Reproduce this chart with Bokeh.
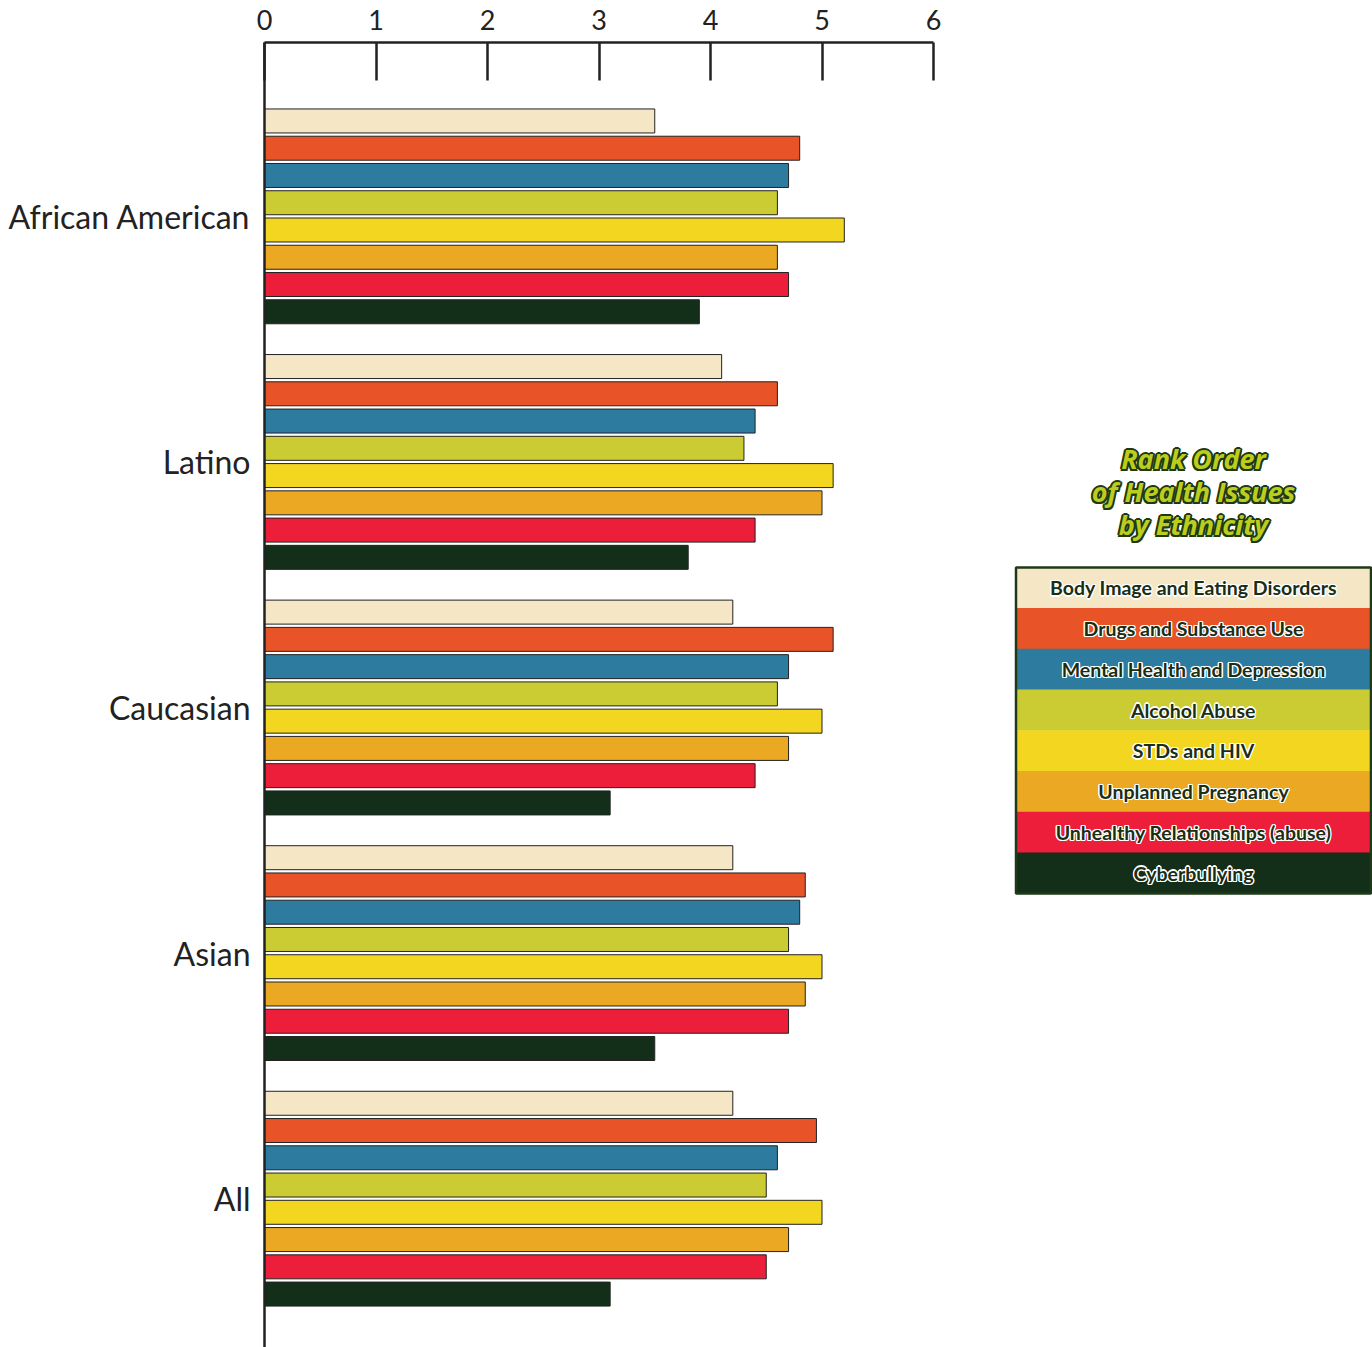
from bokeh.plotting import figure
from bokeh.models import ColumnDataSource, Range1d, FixedTicker, LinearAxis
from bokeh.layouts import row
from bokeh.embed import file_html
from bokeh.resources import INLINE
from bokeh.core.properties import value

groups = ["African American", "Latino", "Caucasian", "Asian", "All"]
issues = ["Body Image and Eating Disorders", "Drugs and Substance Use",
          "Mental Health and Depression", "Alcohol Abuse", "STDs and HIV",
          "Unplanned Pregnancy", "Unhealthy Relationships (abuse)", "Cyberbullying"]
colors = ["#F5E6C6", "#E85427", "#2E7BA0", "#CBCC33", "#F2D620",
          "#EBA823", "#EC1E3A", "#132F19"]

body_image = [3.5, 4.1, 4.2, 4.2, 4.2]
drugs = [4.8, 4.6, 5.1, 4.85, 4.95]
mental = [4.7, 4.4, 4.7, 4.8, 4.6]
alcohol = [4.6, 4.3, 4.6, 4.7, 4.5]
stds = [5.2, 5.1, 5.0, 5.0, 5.0]
unplanned = [4.6, 5.0, 4.7, 4.85, 4.7]
unhealthy = [4.7, 4.4, 4.4, 4.7, 4.5]
cyber = [3.9, 3.8, 3.1, 3.5, 3.1]
series = [body_image, drugs, mental, alcohol, stds, unplanned, unhealthy, cyber]
x_ticks = [0, 1, 2, 3, 4, 5, 6]
title_lines = ["Rank Order", "of Health Issues", "by Ethnicity"]

n = len(groups)
pitch = 0.111
ys, vals, cols = [], [], []
for j, s in enumerate(series):
    for gi, v in enumerate(s):
        ys.append((n - 1 - gi) + 0.5 + (3.5 - j) * pitch)
        vals.append(v)
        cols.append(colors[j])
src = ColumnDataSource(dict(y=ys, v=vals, c=cols))

p = figure(width=943, height=1347, output_backend="svg", toolbar_location=None,
           x_range=Range1d(0, 6), y_range=Range1d(-0.106, 5.208),
           x_axis_location=None, y_axis_location=None,
           min_border_left=264, min_border_right=10, min_border_top=42,
           min_border_bottom=0)
p.outline_line_color = None
p.xgrid.visible = False
p.ygrid.visible = False
p.background_fill_color = "white"
p.border_fill_color = "white"

p.hbar(y="y", left=0, right="v", height=0.0977, fill_color="c",
       line_color="#222222", line_width=1, source=src)

xa = LinearAxis(ticker=FixedTicker(ticks=x_ticks))
xa.major_tick_in = 38
xa.major_tick_out = 0
xa.minor_tick_line_color = None
xa.axis_line_width = 2.5
xa.axis_line_color = "#222222"
xa.major_tick_line_width = 2.5
xa.major_tick_line_color = "#222222"
xa.major_label_text_font = "Lato"
xa.major_label_text_font_size = "27px"
xa.major_label_text_color = "#222222"
xa.major_label_standoff = 13
p.add_layout(xa, "above")

ya = LinearAxis(ticker=FixedTicker(ticks=[n - 1 - gi + 0.5 for gi in range(n)]))
ya.major_label_overrides = {n - 1 - gi + 0.5: g for gi, g in enumerate(groups)}
ya.major_tick_line_color = None
ya.minor_tick_line_color = None
ya.axis_line_width = 2.5
ya.axis_line_color = "#222222"
ya.major_label_text_font = "Lato"
ya.major_label_text_font_size = "32px"
ya.major_label_text_color = "#222222"
ya.major_label_standoff = 8
p.add_layout(ya, "left")

# Legend panel (frame aligned with main frame: pixel 42 .. 1347)
lg = figure(width=429, height=1347, output_backend="svg", toolbar_location=None,
            x_range=Range1d(0, 429), y_range=Range1d(1347, 42),
            x_axis_location=None, y_axis_location=None,
            min_border=0, min_border_top=42)
lg.outline_line_color = None
lg.xgrid.visible = False
lg.ygrid.visible = False

row_h = 40.75
top = 567
lsrc = ColumnDataSource(dict(
    x=[250] * len(issues),
    y=[top + row_h * (k + 0.5) for k in range(len(issues))],
    c=colors, t=issues))
lg.rect(x="x", y="y", width=355, height=row_h + 0.5, fill_color="c",
        line_color=None, source=lsrc)
lg.rect(x=[250], y=[top + row_h * len(issues) / 2], width=355,
        height=row_h * len(issues), fill_color=None, line_color="#1F3A18",
        line_width=2.5)

halo = [(-1, -1), (1, -1), (-1, 1), (1, 1), (0, -1.3), (0, 1.3), (-1.3, 0), (1.3, 0)]
for dx, dy in halo:
    lg.text(x="x", y="y", text="t", source=lsrc, text_align="center",
            text_baseline="middle", text_font=value("Lato"),
            text_font_style="bold", text_font_size="19.5px", text_color="white",
            x_offset=dx, y_offset=dy)
lg.text(x="x", y="y", text="t", source=lsrc, text_align="center",
        text_baseline="middle", text_font=value("Lato"),
        text_font_style="bold", text_font_size="19.5px", text_color="#1A2E14")

tsrc = ColumnDataSource(dict(x=[250] * 3, y=[458, 491, 524], t=title_lines))
halo2 = [(-1.5, -1.5), (1.5, -1.5), (-1.5, 1.5), (1.5, 1.5),
         (0, -2), (0, 2), (-2, 0), (2, 0)]
for dx, dy in halo2:
    lg.text(x="x", y="y", text="t", source=tsrc, text_align="center",
            text_baseline="middle", text_font=value("Open Sans"),
            text_font_style="bold italic", text_font_size="27px",
            text_color="#1F3A12", x_offset=dx, y_offset=dy)
lg.text(x="x", y="y", text="t", source=tsrc, text_align="center",
        text_baseline="middle", text_font=value("Open Sans"),
        text_font_style="bold italic", text_font_size="27px",
        text_color="#BCCD1E")

layout = row(p, lg)
open("out.html", "w").write(file_html(layout, INLINE))
